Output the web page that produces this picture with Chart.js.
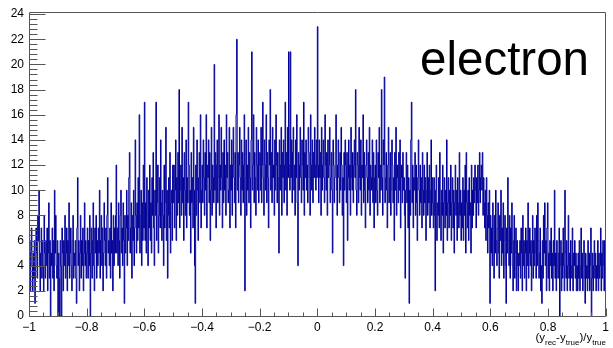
<!DOCTYPE html>
<html><head><meta charset="utf-8">
<script src="https://cdn.jsdelivr.net/npm/chart.js@4.4.1/dist/chart.umd.min.js"></script>
<style>html,body{margin:0;padding:0;background:#fff;overflow:hidden}#wrap{width:613px;height:348px;position:relative}</style>
</head><body><div id="wrap"><canvas id="c" width="613" height="348"></canvas></div>
<script>
// ---- data: bin contents, 0.1-wide slices of the x range ----
const xMin = -1, xMax = 1;
const s01 = [3,6,2,5,7,4,2,5,3,6, 1,4,7,5,3,8,6,10,4,2, 5,7,3,6,4,2,8,5,3,6, 4,7,2,5,9,3,6,0,5,4, 7,3,6,2,10,5,8,4,3,6];
const s02 = [0,5,3,0,6,4,0,7,5,2, 6,4,8,3,5,7,2,6,4,9, 3,5,7,4,2,6,8,3,5,4, 6,3,1,7,11,4,6,2,5,8, 3,6,4,7,2,5,9,4,6,3];
const s03 = [5,7,3,6,4,8,0,5,7,3, 6,9,4,2,7,5,8,3,6,4, 7,5,10,3,6,8,4,7,2,5, 9,6,4,7,3,8,11,5,6,4, 7,3,9,5,6,2,8,4,7,5];
const s04 = [8,12,5,7,4,9,6,3,8,10, 5,7,4,9,6,1,8,5,7,10, 4,8,6,11,13,5,7,9,3,8, 6,10,4,7,14,8,5,9,6,11, 7,16,5,8,10,4,9,6,12,7];
const s05 = [17,6,9,5,11,8,4,10,7,12, 6,9,5,11,8,13,7,4,10,8, 17,6,9,12,5,8,11,7,14,9, 6,10,8,4,12,7,9,15,6,10, 3,8,11,7,13,5,9,10,6,12];
const s06 = [9,12,7,10,14,6,11,8,13,9, 18,7,10,12,8,15,9,11,6,13, 10,8,14,7,11,9,17,12,8,10, 5,13,9,11,7,15,10,4,1,12, 8,14,10,6,11,13,9,16,7,10];
const s07 = [12,9,14,11,8,13,10,16,7,12, 11,14,9,13,6,10,15,8,12,11, 9,20,10,13,7,12,14,9,11,16, 8,12,10,15,11,7,13,9,14,10, 12,8,16,11,13,9,10,15,7,12];
const s08 = [10,14,8,12,15,11,9,13,7,16, 22,10,13,9,12,15,11,8,14,10, 13,9,12,16,2,11,14,8,12,10, 15,9,13,11,7,14,21,10,12,16, 9,13,11,8,15,12,10,14,9,12];
const s09 = [13,10,15,9,12,17,11,8,14,12, 10,16,9,13,11,7,14,12,18,10, 13,9,15,11,12,8,14,10,16,12, 9,13,11,5,14,10,12,15,8,13, 11,14,9,12,17,10,13,8,15,11];
const s10 = [21,12,10,21,11,14,9,13,15,10, 12,8,14,11,16,9,4,13,10,12, 15,11,9,14,12,10,17,8,13,11, 14,10,12,9,15,13,11,8,16,12, 10,14,9,13,11,15,12,10,14,11];
const s11 = [23,12,9,14,11,13,8,15,10,12, 14,11,9,16,12,10,13,8,14,11, 12,15,9,11,13,10,5,14,12,9, 11,13,16,10,8,12,14,11,9,13, 10,15,12,8,11,4,13,10,14,12];
const s12 = [9,13,6,11,14,10,12,8,15,11, 10,13,9,12,14,11,18,10,8,13, 12,9,15,11,10,14,8,12,11,16, 9,13,10,7,12,14,11,9,13,10, 15,8,12,11,10,14,9,13,7,11];
const s13 = [12,9,14,10,8,13,11,15,9,12, 10,18,11,8,14,12,19,9,11,13, 10,7,12,15,9,11,13,8,10,14, 12,9,11,6,13,10,15,8,12,11, 9,13,10,14,7,11,12,9,13,10];
const s14 = [11,8,3,10,13,9,12,7,11,1, 10,8,14,17,9,12,7,11,10,13, 8,12,9,6,11,14,10,8,12,9, 11,7,13,10,8,12,9,11,6,10, 13,8,11,9,12,7,10,14,8,11];
const s15 = [9,7,11,8,2,10,12,6,9,8, 11,7,13,9,6,10,8,12,5,9, 11,7,10,8,14,6,9,11,7,10, 8,12,6,9,11,7,10,5,9,12, 8,10,6,11,9,7,13,8,10,6];
const s16 = [9,7,11,6,10,8,12,5,13,9, 7,10,6,11,8,9,5,12,7,10, 8,11,9,12,10,7,11,9,12,8, 10,13,9,11,12,10,13,8,11,9, 7,10,6,11,8,5,9,7,10,1];
const s17 = [8,5,7,4,9,6,3,8,5,10, 6,4,7,9,5,3,8,6,10,4, 7,5,9,3,6,8,4,1,7,5, 11,6,4,8,3,7,5,9,4,2, 6,8,3,5,7,2,6,4,2,5];
const s18 = [4,6,3,7,5,2,8,4,6,3, 5,7,2,6,4,9,3,5,7,4, 6,2,5,8,3,6,4,7,5,3, 8,4,9,6,3,5,7,2,4,1, 6,3,8,5,9,4,6,2,7,9];
const s19 = [3,5,2,6,4,7,3,5,2,6, 4,10,3,5,2,6,4,3,5,7, 0,4,6,2,5,3,7,4,2,10, 5,3,6,2,4,8,3,5,2,6, 4,3,7,2,5,4,6,3,5,2];
const s20 = [4,2,5,3,6,2,4,7,3,5, 2,4,6,3,1,5,3,4,2,6, 3,5,2,4,7,0,3,5,2,4, 6,3,5,2,4,3,6,2,5,3, 4,7,2,5,3,6,4,2,6,3];
const counts = [].concat(s01,s02,s03,s04,s05,s06,s07,s08,s09,s10,s11,s12,s13,s14,s15,s16,s17,s18,s19,s20);
const binWidth = (xMax - xMin) / counts.length;

const xTickValues = [-1,-0.8,-0.6,-0.4,-0.2,0,0.2,0.4,0.6,0.8,1];
const xTickLabels = ['\u22121','\u22120.8','\u22120.6','\u22120.4','\u22120.2','0','0.2','0.4','0.6','0.8','1'];
const yTickValues = [0,2,4,6,8,10,12,14,16,18,20,22,24];
const yTickLabels = ['0','2','4','6','8','10','12','14','16','18','20','22','24'];
const yMax = 24.15;
const xTitleParts = [['(y',0],['rec',1],['-y',0],['true',1],[')/y',0],['true',1]];
const chartTitle = 'electron';

// histogram outline points at bin left edges, plus closing edge
const points = counts.map((v,i)=>({x: xMin + i*binWidth, y: v}));
points.push({x: xMax, y: counts[counts.length-1]});

const FONT = '"Liberation Sans", Arial, Helvetica, sans-serif';

const framePlugin = {
  id: 'frame',
  afterDraw(chart){
    const {ctx, chartArea:a, scales:{x, y}} = chart;
    ctx.save();
    ctx.strokeStyle = '#555';
    ctx.lineWidth = 1;
    ctx.beginPath();
    const L = Math.round(a.left)+0.5, R = Math.round(a.right)-0.5, T = Math.round(a.top)+0.5, B = Math.round(a.bottom)+0.5;
    ctx.rect(L, T, R-L, B-T);
    ctx.stroke();
    ctx.beginPath();
    for (let k=0;k<=60;k++){
      const v = k*0.4;
      const py = Math.round(y.getPixelForValue(v))+0.5;
      const len = (k%5===0) ? 16 : 8;
      ctx.moveTo(L, py); ctx.lineTo(L+len, py);
    }
    for (let k=0;k<=40;k++){
      const v = -1 + k*0.05;
      const px = Math.round(x.getPixelForValue(v))+0.5;
      const len = (k%4===0) ? 8 : 4;
      ctx.moveTo(px, B); ctx.lineTo(px, B-len);
    }
    ctx.stroke();
    ctx.fillStyle = '#000';
    ctx.textBaseline = 'alphabetic';
    const mainF = '11.5px '+FONT, subF = '8px '+FONT;
    let total = 0;
    for (const [t,s] of xTitleParts){ ctx.font = s?subF:mainF; total += ctx.measureText(t).width; }
    let cx = R + 0.5 - total;
    for (const [t,s] of xTitleParts){
      ctx.font = s?subF:mainF;
      ctx.fillText(t, cx, s ? 344.5 : 341);
      cx += ctx.measureText(t).width;
    }
    ctx.font = '47.5px '+FONT;
    ctx.fillText(chartTitle, 420, 75);
    ctx.restore();
  }
};

new Chart(document.getElementById('c'), {
  type: 'line',
  data: { datasets: [{
    data: points,
    borderColor: '#000099',
    borderWidth: 1,
    pointRadius: 0,
    stepped: 'before',
    fill: false,
    tension: 0
  }]},
  options: {
    responsive: false,
    animation: false,
    devicePixelRatio: 1,
    layout: { padding: { top: 8, right: 5, left: 0, bottom: 0 } },
    plugins: { legend: { display: false }, tooltip: { enabled: false }, title: { display: false } },
    scales: {
      x: {
        type: 'linear', min: xMin, max: xMax,
        grid: { display: false, drawTicks: false },
        border: { display: false },
        afterBuildTicks: s => { s.ticks = xTickValues.map(v=>({value:v})); },
        afterFit: s => { s.height = 32; },
        ticks: {
          autoSkip: false, maxRotation: 0, padding: 4,
          font: { family: FONT, size: 12 }, color: '#000',
          callback: (v, i) => xTickLabels[i]
        }
      },
      y: {
        type: 'linear', min: 0, max: yMax,
        grid: { display: false, drawTicks: false },
        border: { display: false },
        afterBuildTicks: s => { s.ticks = yTickValues.map(v=>({value:v})); },
        afterFit: s => { s.width = 29; },
        ticks: {
          autoSkip: false, padding: 5,
          font: { family: FONT, size: 12 }, color: '#000',
          callback: (v, i) => yTickLabels[i]
        }
      }
    }
  },
  plugins: [framePlugin]
});
</script>
</body></html>
